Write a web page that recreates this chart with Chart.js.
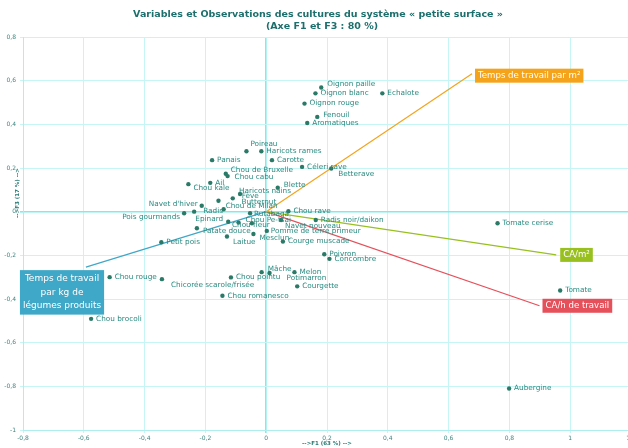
<!DOCTYPE html>
<html>
<head>
<meta charset="utf-8">
<script src="https://cdn.jsdelivr.net/npm/chart.js@4/dist/chart.umd.min.js"></script>
<style>
html, body { margin: 0; padding: 0; background: #fff; overflow: hidden; }
#wrap { width: 640px; height: 448px; }
</style>
</head>
<body>
<div id="wrap"><canvas id="chart" width="640" height="448"></canvas></div>
<script>
// observations (F1, F3)
const obsNames = ["Oignon paille", "Oignon blanc", "Echalote", "Oignon rouge", "Fenouil", "Aromatiques",
    "Poireau", "Haricots rames", "Panais", "Carotte", "Céleri rave", "Betterave", "Chou de Bruxelle",
    "Chou cabu", "Chou kale", "Ail", "Blette", "Haricots nains", "Fève", "Butternut", "Chou de Milan",
    "Navet d'hiver", "Radis", "Pois gourmands", "Rutabaga", "Epinard", "Chou Pe-tsai", "Chou fleur",
    "Patate douce", "Laitue", "Mesclun", "Pomme de terre primeur", "Navet nouveau", "Chou rave",
    "Radis noir/daikon", "Courge muscade", "Poivron", "Concombre", "Mâche", "Potimarron", "Melon",
    "Chou pointu", "Courgette", "Chou romanesco", "Chicorée scarole/frisée", "Chou rouge", "Chou brocoli",
    "Petit pois", "Tomate cerise", "Tomate", "Aubergine"]
const obsF1 = [0.181, 0.162, 0.382, 0.126, 0.168, 0.135,
    -0.065, -0.016, -0.178, 0.019, 0.118, 0.214, -0.133,
    -0.127, -0.256, -0.184, 0.038, -0.086, -0.110, -0.157, -0.140,
    -0.212, -0.237, -0.270, -0.053, -0.125, -0.091, -0.047,
    -0.228, -0.129, -0.042, 0.002, 0.049, 0.073,
    0.163, 0.055, 0.191, 0.208, -0.015, 0.011, 0.093,
    -0.116, 0.102, -0.144, -0.343, -0.515, -0.576,
    -0.345, 0.761, 0.967, 0.799]
const obsF3 = [0.569, 0.542, 0.542, 0.495, 0.434, 0.406,
    0.277, 0.277, 0.236, 0.236, 0.205, 0.198, 0.174,
    0.163, 0.126, 0.132, 0.110, 0.081, 0.061, 0.050, 0.011,
    0.027, 0.000, -0.007, -0.007, -0.046, -0.050, -0.053,
    -0.076, -0.114, -0.102, -0.088, -0.038, 0.002,
    -0.038, -0.137, -0.195, -0.216, -0.277, -0.281, -0.277,
    -0.301, -0.342, -0.385, -0.309, -0.300, -0.491,
    -0.140, -0.053, -0.361, -0.810]

// variables (F1, F3)
const varNames = ["Temps de travail par m²", "CA/m²", "CA/h de travail", "Temps de travail par kg de légumes produits"]
const varF1 = [0.677, 0.954, 0.899, -0.593]
const varF3 = [0.632, -0.198, -0.431, -0.254]

const titleLines = ["Variables et Observations des cultures du système « petite surface »", "(Axe F1 et F3 : 80 %)"]
const xTitle = "-->F1 (63 %) -->"
const yTitle = "-->F3 (17 %) -->"

const varColors = ['#f5a31b', '#98c01f', '#e5505a', '#3fa7c7']
// box placement relative to the end of each arrow: [dx, dy, anchor]
const varBoxPos = [[3, 2, 'left'], [4, 0, 'left'], [3, 0, 'left'], [-66, 3, 'below']]
const varBoxLines = [["Temps de travail par m²"], ["CA/m²"], ["CA/h de travail"], ["Temps de travail", "par kg de", "légumes produits"]]

// label nudges where the labels were moved to avoid overlaps
const labelShift = {
    "Oignon paille": [6, -3], "Poireau": [4, -7], "Fenouil": [6, -2], "Betterave": [7, 6],
    "Chou de Bruxelle": [5, -4], "Chou cabu": [7, 1], "Chou kale": [5, 4], "Blette": [6, -3],
    "Haricots nains": [-1, -3], "Fève": [9, -2], "Butternut": [23, 1], "Chou de Milan": [2, -3],
    "Navet d'hiver": [-4, -2, 'right'], "Radis": [9, -1], "Pois gourmands": [-4, 4, 'right'],
    "Epinard": [-5, -3, 'right'], "Chou Pe-tsai": [7, -2], "Chou fleur": [-20, 2],
    "Patate douce": [6, 3], "Laitue": [6, 6], "Mesclun": [6, 4], "Navet nouveau": [4, 6],
    "Chicorée scarole/frisée": [9, 6], "Mâche": [6, -3], "Potimarron": [17, 5], "Rutabaga": [4, 1],
    "Pomme de terre primeur": [4, 0]
}

const teal = '#2a8a80'
const fmt = v => String(Math.round(v * 10) / 10).replace('.', ',')

const datasets = varNames.map((name, i) => ({
    label: name,
    data: [{x: 0, y: 0}, {x: varF1[i], y: varF3[i]}],
    showLine: true,
    borderColor: varColors[i],
    borderWidth: 1.2,
    pointRadius: 0,
    order: 2
}))
datasets.push({
    label: "Observations",
    data: obsF1.map((x, i) => ({x: x, y: obsF3[i]})),
    pointRadius: 2.2,
    pointBackgroundColor: '#2b7a68',
    pointBorderWidth: 0,
    order: 1
})

const extras = {
    id: 'extras',
    afterDatasetsDraw(chart) {
        const ctx = chart.ctx
        const meta = chart.getDatasetMeta(varNames.length)
        ctx.save()
        ctx.font = '7.3px "DejaVu Sans"'
        ctx.fillStyle = teal
        ctx.textBaseline = 'middle'
        meta.data.forEach((pt, i) => {
            const s = labelShift[obsNames[i]] || [5, 0]
            ctx.textAlign = s[2] || 'left'
            ctx.fillText(obsNames[i], pt.x + s[0], pt.y + s[1])
        })
        ctx.restore()
    },
    afterDraw(chart) {
        const ctx = chart.ctx
        const area = chart.chartArea
        ctx.save()
        // title
        ctx.font = 'bold 9.5px "DejaVu Sans"'
        ctx.fillStyle = '#1c6f6c'
        ctx.textAlign = 'center'
        ctx.textBaseline = 'middle'
        ctx.fillText(titleLines[0], 318, 15)
        ctx.fillText(titleLines[1], 322, 27)
        // axis titles
        ctx.font = 'bold 5.5px "DejaVu Sans"'
        ctx.fillStyle = '#2a7a74'
        ctx.fillText(xTitle, (area.left + area.right) / 2, 444)
        ctx.translate(18, 193)
        ctx.rotate(-Math.PI / 2)
        ctx.fillText(yTitle, 0, 0)
        ctx.restore()

        // variable boxes
        ctx.save()
        ctx.textBaseline = 'middle'
        ctx.textAlign = 'center'
        varNames.forEach((name, i) => {
            const end = chart.getDatasetMeta(i).data[1]
            const lines = varBoxLines[i]
            ctx.font = lines.length > 1 ? '9px "DejaVu Sans"' : '8.6px "DejaVu Sans"'
            const w = Math.max(...lines.map(l => ctx.measureText(l).width)) + 6
            const lh = lines.length > 1 ? 13.5 : 13
            const h = lines.length * lh + (lines.length > 1 ? 4 : 1)
            const p = varBoxPos[i]
            let left, top
            if (p[2] === 'below') {
                left = end.x + p[0]
                top = end.y + p[1]
            } else {
                left = end.x + p[0]
                top = end.y + p[1] - h / 2
            }
            ctx.fillStyle = varColors[i]
            ctx.fillRect(left, top, w, h)
            ctx.fillStyle = '#ffffff'
            lines.forEach((l, k) => {
                ctx.fillText(l, left + w / 2, top + (h - lines.length * lh) / 2 + lh * (k + 0.5))
            })
        })
        ctx.restore()
    }
}

const gridColor = c => Math.abs(c.tick.value) < 1e-9 ? '#7fecec' : '#c6f5f5'
const gridWidth = c => Math.abs(c.tick.value) < 1e-9 ? 1.6 : 1

new Chart(document.getElementById('chart').getContext('2d'), {
    type: 'scatter',
    data: { datasets: datasets },
    options: {
        responsive: false,
        animation: false,
        layout: { padding: { top: 37, right: 9, left: 0, bottom: 0 } },
        plugins: {
            legend: { display: false },
            tooltip: { enabled: false }
        },
        scales: {
            x: {
                type: 'linear',
                min: -0.8,
                max: 1.2,
                ticks: {
                    stepSize: 0.2,
                    callback: fmt,
                    font: { family: 'DejaVu Sans', size: 6 },
                    color: '#40857f',
                    padding: 2,
                    maxRotation: 0
                },
                grid: { color: gridColor, lineWidth: gridWidth, tickLength: 3 },
                border: { color: '#aeeeee' },
                afterFit: s => { s.height = 18 }
            },
            y: {
                type: 'linear',
                min: -1,
                max: 0.8,
                ticks: {
                    stepSize: 0.2,
                    callback: fmt,
                    font: { family: 'DejaVu Sans', size: 6 },
                    color: '#40857f',
                    padding: 4
                },
                grid: { color: gridColor, lineWidth: gridWidth, tickLength: 3 },
                border: { color: '#aeeeee' },
                afterFit: s => { s.width = 23 }
            }
        }
    },
    plugins: [extras]
});
</script>
</body>
</html>
